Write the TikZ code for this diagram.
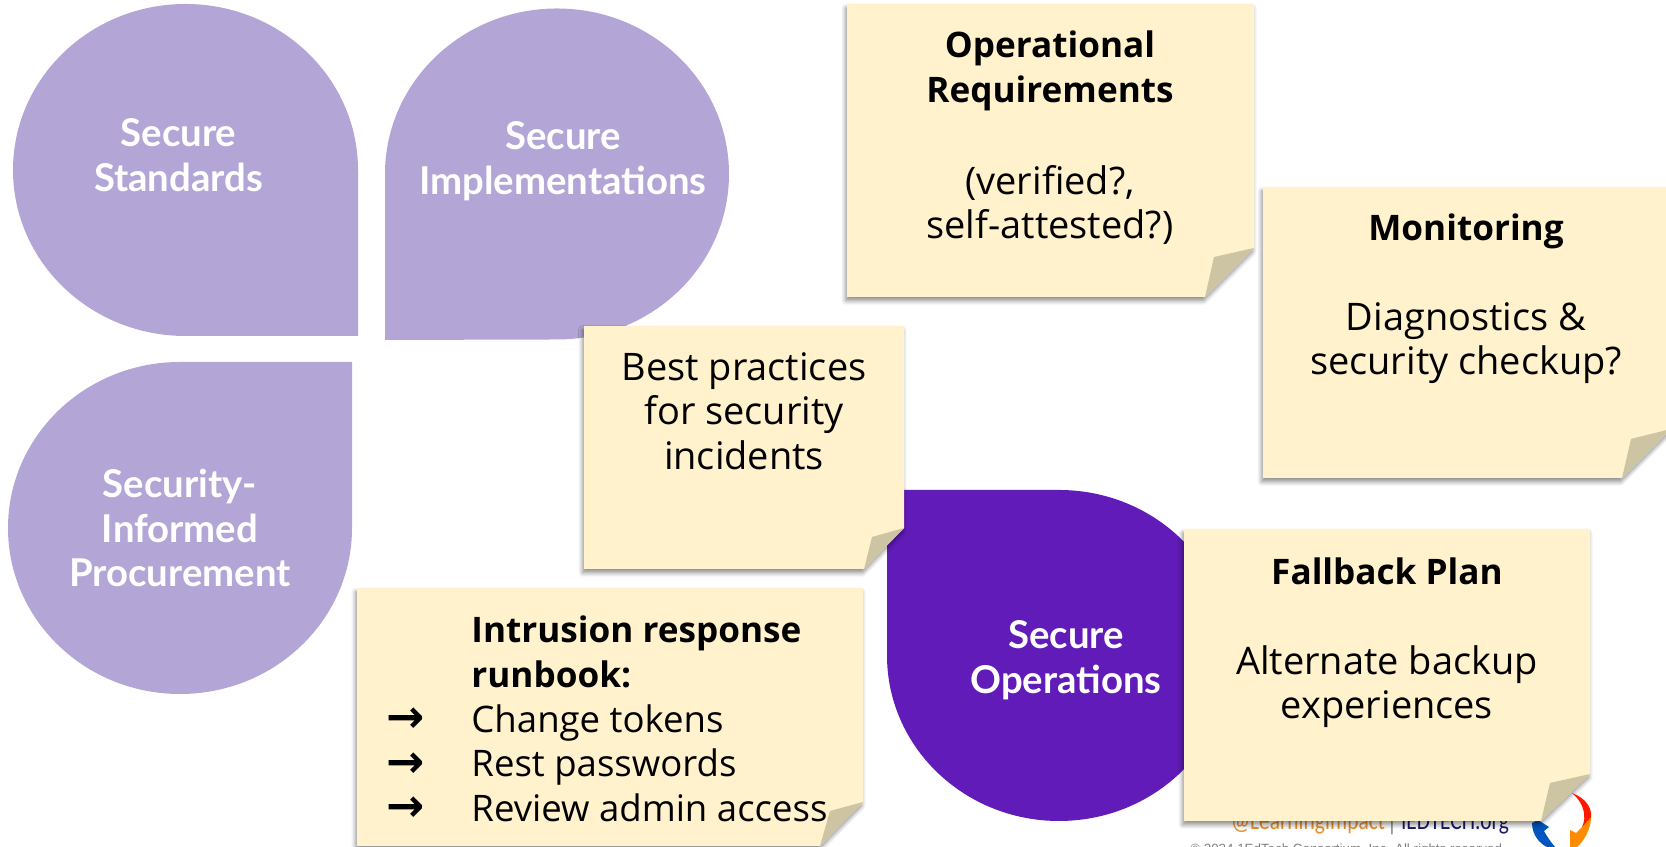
\documentclass[tikz,border=0pt]{standalone}
\usepackage{fontspec}
\setmainfont{Open Sans}
\newfontfamily\dropfont{Lato}
\newfontfamily\footfont{Carlito}
\newfontfamily\rightsfont{Liberation Sans}
\newfontfamily\arrowfont{DejaVu Sans}
\usepackage{tikz}
\usetikzlibrary{shadows,shadows.blur,positioning}
\definecolor{dropLight}{HTML}{B3A6D6}
\definecolor{dropDark}{HTML}{611BB8}
\definecolor{noteFill}{HTML}{FFF2CC}
\definecolor{foldFill}{HTML}{CDC4A3}
\definecolor{footOrange}{HTML}{E8912D}
\definecolor{footNavy}{HTML}{1A1A6E}
\newcommand{\notehead}[1]{{\fontsize{10}{12.7}\selectfont\bfseries #1}}
\tikzset{
	droplabel/.style={font=\dropfont\bfseries\fontsize{10.9}{12.7}\selectfont,text=white,align=center},
	notepaper/.style={fill=noteFill,blur shadow={shadow xshift=-.4pt,shadow yshift=-1.1pt,shadow blur radius=1.2pt,shadow blur steps=6,shadow opacity=45}},
	notefold/.style={fill=foldFill},
	notetext/.style={font=\fontsize{10.8}{12.7}\selectfont,text=black,align=center},
	footlabel/.style={font=\footfont\fontsize{7.6}{9}\selectfont,xscale=.8},
}
\begin{document}
\begin{tikzpicture}
	\useasboundingbox (0,0) rectangle (16.66,8.47);
	\fill[dropLight] (3.58,5.11) -- (1.855,5.11) arc[start angle=270,delta angle=-270,x radius=1.725,y radius=1.66] -- cycle;
	\fill[dropLight] (3.85,5.07) -- (3.85,6.73) arc[start angle=180,delta angle=-270,x radius=1.72,y radius=1.655] -- cycle;
	\fill[dropLight] (3.52,4.85) -- (3.52,3.19) arc[start angle=0,delta angle=-270,x radius=1.72,y radius=1.66] -- cycle;
	\fill[dropDark] (8.87,3.57) -- (10.59,3.57) arc[start angle=90,delta angle=-270,x radius=1.72,y radius=1.655] -- cycle;
	\node[droplabel] (standards) at (1.785,6.92) {Secure\\Standards};
	\node[droplabel] (implementations) at (5.63,6.855) {Secure\\Implementations};
	\node[droplabel] (procurement) at (1.8,3.19) {Security-\\Informed\\Procurement};
	\node[droplabel] (operations) at (10.66,1.87) {Secure\\Operations};
	\node[footlabel,text=footOrange] (handle) at (13.08,.24) {@LearningImpact};
	\node[footlabel,text=gray] (divider) at (13.92,.24) {|};
	\node[footlabel,text=footNavy] (site) at (14.55,.24) {IEDTECH.org};
	\node[font=\rightsfont\fontsize{3.8}{4}\selectfont,text=gray] (rights) at (13.48,-.03) {© 2024 1EdTech Consortium, Inc. All rights reserved.};
	\fill[orange!90!yellow] (15.91,.3) .. controls (15.91,.18) and (15.84,.06) .. (15.77,0) -- (15.70,0) -- (15.70,.17) -- (15.76,.14) -- (15.82,.2) .. controls (15.85,.24) and (15.87,.28) .. (15.87,.33) -- cycle;
	\fill[red!80!orange] (15.72,.54) .. controls (15.85,.49) and (15.92,.4) .. (15.91,.3) -- (15.82,.2) .. controls (15.87,.3) and (15.84,.44) .. (15.72,.54) -- cycle;
	\fill[blue!55!cyan!75!black] (15.32,.24) .. controls (15.32,.12) and (15.40,.03) .. (15.47,0) -- (15.55,0) .. controls (15.50,.06) and (15.46,.12) .. (15.44,.16) -- (15.49,.2) -- (15.38,.27) -- cycle;
	\path[notepaper] (8.47,8.43) -- (12.54,8.43) -- (12.54,5.99) -- (12.05,5.5) -- (8.47,5.5) -- cycle;
	\fill[notefold] (12.54,5.99) -- (12.14,5.9) -- (12.05,5.5) -- cycle;
	\node[notetext] (operational) at (10.5,7.09) {\notehead{Operational}\\\notehead{Requirements}\\[13.4pt](verified?,\\self-attested?)};
	\path[notepaper] (12.63,6.6) -- (16.71,6.6) -- (16.71,4.18) -- (16.22,3.69) -- (12.63,3.69) -- cycle;
	\fill[notefold] (16.71,4.18) -- (16.31,4.08) -- (16.22,3.69) -- cycle;
	\node[notetext] (monitoring) at (14.66,5.48) {\notehead{Monitoring}\\[12.7pt]Diagnostics \&\\security checkup?};
	\path[notepaper] (5.84,5.21) -- (9.04,5.21) -- (9.04,3.19) -- (8.64,2.78) -- (5.84,2.78) -- cycle;
	\fill[notefold] (9.04,3.19) -- (8.72,3.1) -- (8.64,2.78) -- cycle;
	\node[notetext] (practices) at (7.44,4.36) {Best practices\\for security\\incidents};
	\path[notepaper] (11.84,3.18) -- (15.9,3.18) -- (15.9,.73) -- (15.41,.26) -- (11.84,.26) -- cycle;
	\fill[notefold] (15.9,.73) -- (15.5,.64) -- (15.41,.26) -- cycle;
	\node[notetext] (fallback) at (13.87,2.04) {\notehead{Fallback Plan}\\[12.7pt]Alternate backup\\experiences};
	\path[notepaper] (3.57,2.59) -- (8.63,2.59) -- (8.63,.45) -- (8.2,.01) -- (3.57,.01) -- cycle;
	\fill[notefold] (8.63,.45) -- (8.3,.36) -- (8.2,.01) -- cycle;
	\node[notetext,font=\fontsize{10.4}{12.7}\selectfont,align=left,anchor=west] (runbook) at (4.59,1.28) {\notehead{Intrusion response}\\\notehead{runbook:}\\Change tokens\\Rest passwords\\Review admin access};
	\node[notetext,font=\arrowfont\bfseries\fontsize{13}{12.7}\selectfont,left=.22 of runbook.south west,anchor=south east] (bullets) {→\\→\\→};
\end{tikzpicture}
\end{document}
